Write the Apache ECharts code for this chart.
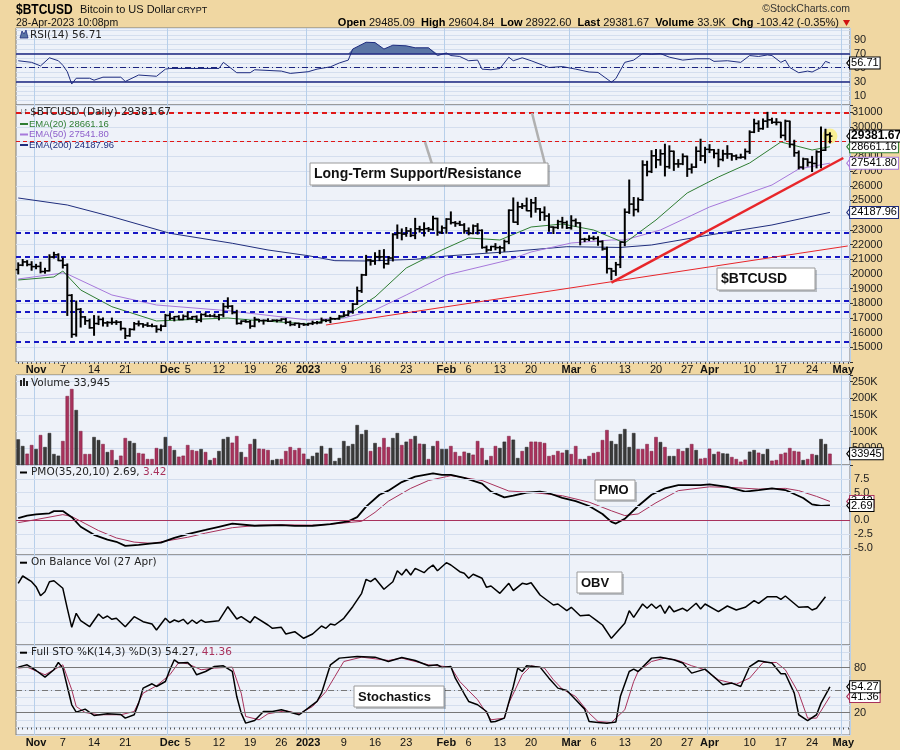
<!DOCTYPE html>
<html><head><meta charset="utf-8">
<script src="https://cdn.jsdelivr.net/npm/echarts@6/dist/echarts.min.js"></script>
<style>html,body{margin:0;padding:0;background:#F0D7A2}#c{width:900px;height:750px}</style>
</head><body><div id="c"></div>
<script>
// ---------------- DATA ----------------
const firstDay = '2022-10-28';
const dayCount = 187; // axis runs to 2023-05-02
const tickLabels = {'2022-11-01':'Nov','2022-11-07':'7','2022-11-14':'14','2022-11-21':'21','2022-12-01':'Dec','2022-12-05':'5','2022-12-12':'12','2022-12-19':'19','2022-12-26':'26','2023-01-01':'2023','2023-01-09':'9','2023-01-16':'16','2023-01-23':'23','2023-02-01':'Feb','2023-02-06':'6','2023-02-13':'13','2023-02-20':'20','2023-03-01':'Mar','2023-03-06':'6','2023-03-13':'13','2023-03-20':'20','2023-03-27':'27','2023-04-01':'Apr','2023-04-10':'10','2023-04-17':'17','2023-04-24':'24','2023-05-01':'May'};
const monthLabels = ['Nov','Dec','2023','Feb','Mar','Apr','May'];

const opens = [20290,20595,20818,20635,20495,20510,20160,20209,21148,21300,20905,20591,18541,15880,17586,17070,16812,16330,16619,16900,16663,16690,16700,16710,16285,15790,16220,16600,16600,16520,16460,16440,16220,16440,17170,16970,17090,16890,17110,16970,17090,16840,17230,17130,17130,17090,17210,17780,17800,17360,16630,16780,16740,16440,16900,16820,16830,16780,16840,16830,16920,16710,16550,16630,16600,16540,16620,16670,16670,16850,16830,16950,16940,17120,17190,17440,17940,18850,19930,20950,20870,21170,21160,20690,21080,22680,22780,22710,22920,22620,23070,23010,23080,23030,23770,22840,23130,23730,23490,23430,23330,22930,22760,23260,22960,21800,21630,21860,21790,21770,22200,24330,23520,24570,24630,24300,24840,24430,24190,23940,23190,23160,23560,23490,23140,23630,23470,22360,22350,22430,22410,22200,21700,20360,20190,20630,22160,24200,24750,24380,25050,27420,26970,28040,27770,28180,27300,28350,27490,27490,28000,27140,27270,28350,28030,28480,28450,28200,27790,28170,28170,28030,27920,27950,28330,29650,30240,29890,30400,30490,30320,30320,29430,30400,28820,28250,27270,27820,27590,27520,28310,28420,29485.09];
const highs = [20750,20980,20900,20830,20650,20790,20380,21300,21470,21370,21060,20680,18590,18150,17640,17090,16920,17160,17120,17000,16750,16990,16820,16760,16290,16270,16690,16790,16610,16670,16580,16470,16520,17240,17300,17100,17150,17200,17400,17100,17140,17280,17340,17220,17260,17240,17990,18370,17840,17520,16800,16860,16820,17040,16900,16860,16940,16870,16860,16940,16960,16780,16650,16640,16630,16630,16780,16760,16990,16880,17040,16960,17170,17390,17490,17990,19100,19970,21260,20990,21440,21600,21650,21180,22740,23330,23060,23160,23080,23780,23240,23480,23160,23920,23790,23260,23760,24220,23560,23580,23420,23130,23330,23420,23000,21900,21880,22060,21880,22300,24360,25170,24880,24790,25160,25070,25200,24450,24560,24090,23200,23650,23850,23590,23960,23740,23480,22420,22600,22560,22530,22250,21820,20370,20780,22190,24420,26390,25200,25170,27700,27670,28390,28470,28450,28830,28720,28360,27780,28170,28020,27480,28640,29170,28620,28800,28460,28480,28420,28730,28180,28100,28150,28500,29740,30530,30420,30550,31000,30600,30570,30320,30470,30400,29100,28370,27880,27830,28000,28380,30000,29850,29604.84];
const lows = [20000,20560,20550,20250,20350,20070,20050,20200,21080,20900,20400,17170,15680,15760,16380,16560,16300,15820,16550,16450,16430,16570,16560,16180,15600,15750,16180,16460,16370,16420,16400,16030,16130,16420,16890,16800,16880,16880,16900,16910,16700,16740,17100,17090,17070,16870,17080,17660,17280,16580,16590,16710,16300,16400,16730,16580,16760,16780,16730,16790,16610,16470,16500,16350,16490,16500,16550,16600,16660,16750,16680,16910,16910,17100,17150,17320,17920,18740,19900,20600,20650,20900,20400,20660,20880,22420,22320,22560,22540,22400,22850,22580,22890,22990,22630,22750,22770,23400,23240,23300,22770,22660,22730,22710,21750,21480,21600,21640,21380,21540,22060,23520,23360,24450,24300,23870,24200,23640,23650,22900,22750,23080,23120,23090,23050,23240,21980,22200,22270,22320,21950,21620,20060,19600,19900,20430,21920,24120,23950,24220,25000,26680,26900,27230,27400,26670,27190,27050,27260,27440,26640,26870,27250,27720,27560,28260,27900,27300,27700,27870,27740,27780,27880,27820,28200,29620,29700,29850,29980,30250,30150,29270,29120,28620,28010,27150,27130,27340,26970,27220,27230,28400,28922.60];
const closes = [20595,20818,20635,20495,20510,20160,20209,21148,21300,20905,20591,18541,15880,17586,17070,16812,16330,16619,16900,16663,16690,16700,16710,16285,15790,16220,16600,16600,16520,16460,16440,16220,16440,17170,16970,17090,16890,17110,16970,17090,16840,17230,17130,17130,17090,17210,17780,17800,17360,16630,16780,16740,16440,16900,16820,16830,16780,16840,16830,16920,16710,16550,16630,16600,16540,16620,16670,16670,16850,16830,16950,16940,17120,17190,17440,17940,18850,19930,20950,20870,21170,21160,20690,21080,22680,22780,22710,22920,22620,23070,23010,23080,23030,23770,22840,23130,23730,23490,23430,23330,22930,22760,23260,22960,21800,21630,21860,21790,21770,22200,24330,23520,24570,24630,24300,24840,24430,24190,23940,23190,23160,23560,23490,23140,23630,23470,22360,22350,22430,22410,22200,21700,20360,20190,20630,22160,24200,24750,24380,25050,27420,26970,28040,27770,28180,27300,28350,27490,27490,28000,27140,27270,28350,28030,28480,28450,28200,27790,28170,28170,28030,27920,27950,28330,29650,30240,29890,30400,30490,30320,30320,29430,30400,28820,28250,27270,27820,27590,27520,28310,28420,29470,29381.67];

// EMA readings [day index, value]
const ema20 = [[0,19584],[8,19788],[10,20197],[14,18904],[21,17766],[31,16793],[47,16997],[52,16861],[65,16589],[73,17065],[80,18427],[87,20401],[95,21627],[101,22444],[108,22308],[115,23193],[122,23397],[129,22989],[136,22104],[143,23670],[150,25508],[157,26598],[164,27551],[171,28981],[178,28436],[182,28661.16]];
const ema50 = [[0,19652],[10,20061],[11,19993],[21,18563],[31,17882],[47,17494],[65,16861],[73,16997],[80,17542],[87,18563],[96,19925],[110,20946],[115,21491],[124,22104],[133,22308],[136,22308],[144,22989],[155,24555],[169,26053],[175,27142],[182,27541.80]];
const ema200 = [[0,25168],[11,24691],[21,23895],[34,22764],[48,22083],[56,21627],[65,21240],[71,20900],[78,20878],[89,20992],[96,21218],[110,21511],[123,21852],[135,21800],[142,21967],[155,22648],[169,23329],[182,24187.96]];

const resistanceLevels = [31000, 29000];
const supportLevels = [22800, 21200, 18200, 17400, 15400];
const trendLines = [[69,16520,186,21900],[133,19400,185,27890]]; // thin, thick

// Volume (thousands) and up/down colour codes (k = up, r = down)
const volumeK = [77,57,34,60,48,90,54,96,33,28,72,207,228,165,102,33,33,84,75,63,39,45,15,28,81,72,66,36,34,18,18,51,48,84,57,45,25,28,60,45,42,48,39,15,21,42,78,84,67,87,39,24,63,78,49,48,45,15,18,18,42,54,45,51,34,18,27,37,57,34,51,12,21,72,57,63,120,93,105,42,66,54,81,54,81,96,60,70,78,87,64,63,18,57,72,48,48,
57,39,27,40,36,31,72,51,15,27,57,51,70,87,76,21,42,54,70,70,69,66,27,30,42,37,45,33,57,18,18,27,36,39,75,105,72,63,93,108,54,96,48,48,63,42,84,69,54,27,27,48,42,51,63,45,19,21,49,33,40,35,34,24,18,10,16,40,45,37,33,48,13,15,33,37,51,42,40,15,18,33,30,78,63,33.945];
const volumeDir = 'kkrrkrkkkkrrrkrrrkkrkrkrrkkrrrrrkkrkrrrrrkrkrkkkrrkrrkrrrkkrrrrrrkkkkrkkkkkkkkkrkrrrkkrkrkrkrkrkk' +
                  'rrrrkrrrkrrkkrkkrkrrrrrrrrkrrrkrrrrrkkkkkkrrrrrkrkkrrkrkrrrkrkkrrrrkkrkkrrrrrrrkrrkkkr';

const rsiPoints = [[0,59.9],[3,57.6],[5,52.5],[7,64.1],[9,59.9],[10,53.4],[11,44.2],[12,26.6],[13,34.9],[16,34.9],[17,32.1],[19,36.4],[23,36.4],[24,30.3],[27,39.5],[31,37.7],[33,47.9],[34,48.8],[45,48.8],[46,57.6],[49,42.8],[52,42.8],[53,47],[59,45.1],[61,41.8],[65,44.2],[67,47.9],[70,51.2],[72,56.7],[74,60.8],[75,76.6],[78,86.3],[80,85.8],[82,76.6],[84,82.1],[87,81.2],[89,78.4],[92,78.4],[94,67.3],[96,71],[97,67.3],[99,66],[101,59.9],[103,60.8],[104,47.9],[106,47],[108,48.8],[110,65],[111,59.9],[113,64.1],[115,59.9],[119,50.2],[122,51.6],[125,47.9],[128,43.8],[130,43.2],[133,29.3],[134,34.4],[136,57.6],[138,60.8],[140,70.1],[142,69.2],[144,70.1],[146,65],[149,60.8],[152,62.7],[155,62.7],[156,59],[159,59.9],[162,57.6],[164,67.3],[166,66],[168,68.2],[169,67.3],[171,57.6],[172,60.8],[173,50.2],[175,42.8],[177,45.1],[178,43.8],[180,50.2],[181,59],[182,56.71]];

const pmoLine = [[0,0.4],[2,0.87],[4,1.1],[7,1.28],[8,1.68],[10,1.68],[12,0.58],[14,-1.15],[17,-2.6],[20,-3.46],[22,-3.86],[24,-4.6],[27,-4.43],[30,-4.15],[32,-4.03],[35,-3.17],[38,-2.47],[42,-1.73],[45,-1.15],[48,-0.57],[53,-0.97],[59,-0.87],[62,-1.0],[66,-0.97],[70,-0.69],[74,-0.17],[76,0.58],[78,2.49],[81,4.62],[83,5.37],[86,6.92],[89,7.9],[93,8.48],[95,8.2],[97,8.2],[100,7.68],[104,6.64],[106,5.19],[109,4.15],[111,4.45],[114,5.02],[117,5.19],[119,4.9],[122,4.05],[125,3.46],[128,2.6],[131,1.16],[133,-0.28],[134,-0.57],[136,0.29],[139,2.6],[142,4.62],[145,5.78],[148,6.35],[153,6.35],[155,6.52],[159,6.06],[163,5.19],[166,5.48],[169,5.78],[172,5.48],[176,4.05],[178,2.89],[180,2.6],[182,2.69]];
const pmoSignal = [[0,-0.4],[3,0],[10,1.04],[12,0.7],[15,-0.57],[18,-1.84],[22,-3.17],[26,-3.92],[30,-4.15],[33,-3.74],[38,-3.05],[42,-2.3],[48,-1.32],[54,-0.87],[59,-0.8],[67,-0.87],[70,-0.7],[77,-0.17],[80,1.45],[83,3.46],[88,5.78],[92,7.2],[96,7.9],[97,8.08],[104,7.2],[110,5.3],[115,5.07],[122,4.45],[128,3.29],[133,1.73],[136,0.87],[139,1.16],[143,3.18],[148,5.37],[155,6.06],[160,5.94],[166,5.65],[172,5.78],[175,5.37],[179,4.33],[182,3.42]];

const obvPoints = [[0,61.7],[1,69],[3,63.3],[4,58.3],[5,49.3],[6,53.3],[7,63.3],[8,64.3],[10,56.7],[11,36.7],[12,17.7],[13,31.7],[14,24.3],[16,18.3],[18,31],[19,26.7],[20,29],[21,25.7],[22,26.7],[24,18.3],[26,28.3],[28,23.3],[30,21],[31,15],[33,26.7],[34,22.3],[35,25],[36,23.3],[37,25.7],[38,21],[39,25],[40,21.7],[41,25],[42,22.7],[45,24.3],[47,38.3],[49,26],[50,28.3],[52,22.3],[53,28.3],[56,20],[57,16.7],[59,17.7],[60,11],[62,13.3],[64,6.7],[66,11],[68,19],[69,16.7],[70,21],[71,20],[73,26.7],[75,38.3],[77,51.7],[78,65.7],[79,63.3],[80,66.7],[82,55.7],[84,63.3],[85,74.3],[86,70],[87,75.7],[88,70],[89,76.7],[91,72.3],[92,76.7],[93,80],[94,74.3],[96,82.3],[97,80],[99,73.3],[100,71.7],[101,66.7],[102,70.7],[104,66.7],[105,57.7],[106,59],[108,51.7],[110,61.7],[111,54.3],[113,61.7],[114,60.7],[115,62.3],[117,50],[120,40],[121,41],[123,34.3],[124,37.7],[126,29.3],[128,30],[130,23.3],[131,20],[133,6.7],[136,21.7],[137,34.3],[138,27.7],[140,41],[141,36.7],[142,41],[143,36.7],[144,40],[145,31.7],[146,39],[147,33.3],[149,36.7],[150,34],[152,41.7],[153,36],[154,41],[157,33.3],[159,39],[161,35],[163,37.7],[165,44.3],[166,41.7],[168,48.3],[170,48.3],[171,45.7],[172,49],[175,37.7],[177,38.3],[178,35],[179,36.7],[181,48.3]];

const stoK = [[0,80.5],[2,83.6],[4,76],[6,67.2],[8,77],[9,86.7],[10,79.2],[11,54.7],[12,30.3],[13,20.5],[15,24.5],[17,16],[20,18.3],[23,17.3],[24,12.5],[26,17],[27,32.5],[28,52.5],[30,58.3],[31,54.7],[33,61.3],[34,77],[35,90.3],[36,85.9],[38,86.7],[39,80.5],[40,70.3],[42,74.7],[44,81.3],[46,82.3],[48,74.7],[49,41.3],[50,19.2],[51,5.8],[53,9.3],[55,21.3],[57,21.3],[59,23.6],[63,17],[65,25.8],[67,34.7],[68,45.8],[70,83.6],[72,92.5],[76,94.7],[80,93.8],[83,88],[86,93.4],[89,89.4],[92,82.3],[94,83.6],[95,80],[97,81.3],[98,65.8],[100,45],[101,34.7],[103,30.3],[105,21.3],[106,7.2],[107,8],[109,12.5],[111,54.7],[112,79.2],[113,74.7],[114,82.3],[117,80.5],[119,65.8],[121,52.5],[123,49.3],[125,37],[127,24.5],[128,8],[130,6.7],[132,5.8],[134,7.2],[135,41.3],[137,74.7],[138,77.8],[139,74.7],[142,92.5],[144,93.8],[147,90.3],[149,85.9],[151,72.5],[154,77.8],[158,57],[160,59.2],[162,54.7],[164,81.3],[166,89],[169,85.9],[171,71.6],[172,71.6],[174,45.8],[175,17],[177,9.3],[179,17],[180,32.5],[182,54.27]];
const stoD = [[0,79.2],[2,80.5],[6,70.3],[10,83.6],[12,50.3],[13,28],[15,20],[18,17],[23,17],[26,21.3],[28,45.8],[31,55.6],[34,70.3],[36,86.7],[38,85],[41,77],[44,79.2],[48,80.5],[50,45.8],[51,14.7],[54,10.3],[56,18.3],[60,22.3],[63,18.3],[66,28],[69,48],[71,68],[73,88],[77,93.8],[83,89.4],[86,92.5],[92,83.6],[97,80.5],[99,61.3],[103,37],[104,28],[106,10.3],[109,12.5],[110,32.5],[113,70.3],[115,82.3],[118,79.2],[120,63.6],[122,51.2],[125,41.3],[128,19.2],[130,8],[133,6.7],[136,23.6],[138,61.3],[139,74.7],[142,88],[145,92.5],[148,89.4],[151,82.3],[154,77],[157,63.6],[161,57.8],[164,65.8],[167,86.7],[170,86.7],[172,77],[175,45.8],[177,12.5],[179,12.5],[182,41.36]];

// ---------------- BUILD ----------------
const dates = [];
{ const t0 = Date.parse(firstDay + 'T00:00:00Z'); for (let k = 0; k < dayCount; k++) dates.push(new Date(t0 + k * 86400000).toISOString().slice(0, 10)); }
const lastAxisDay = dates[dayCount - 1];
const ohlc = closes.map((c, i) => [i, opens[i], highs[i], lows[i], c]);
const named = pts => pts.map(p => [dates[p[0]], p[1]]);

const PANEL_BG = '#EEF2F9', GRID_C = '#D4DEEE', MONTH_C = '#B7CFEA', BORDER_C = '#7d7d7d';
const FONT = "'Liberation Sans', Arial, sans-serif";
const TFONT = "'DejaVu Sans', Verdana, sans-serif";
const L = 16, R = 50;
const panels = [
  {top: 28, height: 77}, {top: 105, height: 257}, {top: 375, height: 90},
  {top: 465, height: 90}, {top: 555, height: 90}, {top: 645, height: 90}
];
const isMonthStart = (i, v) => v.slice(8) === '01';

const xAxes = panels.map((p, gi) => ({
  type: 'category', gridIndex: gi, data: dates, boundaryGap: true,
  axisLine: {show: false},
  axisTick: {show: gi === 1 || gi === 5, interval: 0, length: 2, alignWithLabel: true, lineStyle: {color: '#555'}},
  axisLabel: {show: gi === 1 || gi === 5, interval: (i, v) => tickLabels[v] !== undefined, margin: 2,
    formatter: v => { const t = tickLabels[v]; if (t === undefined) return ''; return monthLabels.includes(t) ? '{m|' + t + '}' : '{d|' + t + '}'; },
    rich: {m: {fontFamily: FONT, fontWeight: 'bold', fontSize: 11, color: '#111'}, d: {fontFamily: FONT, fontSize: 11, color: '#111'}}},
  splitLine: {show: true, interval: isMonthStart, lineStyle: {color: MONTH_C, width: 1}}
}));

const near = (v, t) => Math.abs(v - t) < 1e-6;
const baseY = {type: 'value', position: 'right', scale: false, axisLine: {show: false}, axisTick: {show: false},
  axisLabel: {color: '#222', fontFamily: FONT, fontSize: 11, margin: 4}, splitLine: {show: true, lineStyle: {color: GRID_C, width: 1}}};
const yAxes = [
  Object.assign({}, baseY, {gridIndex: 0, min: -10/3, max: 320/3, interval: 20/3,
    axisLabel: Object.assign({}, baseY.axisLabel, {formatter: v => { const r = Math.round(v); return (near(v, r) && [10,30,50,70,90].includes(r)) ? String(r) : ''; }})}),
  Object.assign({}, baseY, {gridIndex: 1, min: 14000, max: 31500, interval: 1000,
    axisTick: {show: true, length: 3, lineStyle: {color: '#333'}},
    axisLabel: Object.assign({}, baseY.axisLabel, {margin: 2, formatter: v => (v >= 15000 && v <= 31000) ? String(v) : ''})}),
  Object.assign({}, baseY, {gridIndex: 2, min: 0, max: 270000, interval: 50000,
    axisTick: {show: true, length: 3, lineStyle: {color: '#333'}},
    axisLabel: Object.assign({}, baseY.axisLabel, {margin: 2, formatter: v => v === 0 || v > 250000 ? '' : (v >= 100000 ? (v / 1000) + 'K' : String(v))})}),
  Object.assign({}, baseY, {gridIndex: 3, min: -6.25, max: 10, interval: 1.25, splitLine: {show: false},
    axisLabel: Object.assign({}, baseY.axisLabel, {formatter: v => { const k = v / 2.5; return (near(k, Math.round(k)) && v >= -5 && v <= 7.5) ? v.toFixed(1) : ''; }})}),
  Object.assign({}, baseY, {gridIndex: 4, min: 0, max: 90, interval: 22.5, axisLabel: {show: false}}),
  Object.assign({}, baseY, {gridIndex: 5, min: -10, max: 110, interval: 10,
    axisLabel: Object.assign({}, baseY.axisLabel, {formatter: v => (near(v, 80) || near(v, 20)) ? String(Math.round(v)) : ''})})
];

function valueBox(val, text, color, bold) {
  return {coord: [lastAxisDay, val], value: val, symbol: 'triangle', symbolRotate: 90, symbolSize: [10, 4], symbolOffset: [1, 0],
    itemStyle: {color: '#fff', borderColor: color, borderWidth: 1},
    label: {show: true, position: 'right', distance: -1, formatter: text, color: '#000', fontFamily: FONT, fontSize: bold ? 12 : 11,
      fontWeight: bold ? 'bold' : 'normal', backgroundColor: '#fff', borderColor: color, borderWidth: 1, padding: [1, 1, 0, 1], lineHeight: 10}};
}
const hLine = (v, color, width, type) => ({yAxis: v, lineStyle: {color, width, type}});

const series = [];
// RSI
series.push({type: 'line', xAxisIndex: 0, yAxisIndex: 0, data: named(rsiPoints.map(p => [p[0], Math.max(p[1], 70)])),
  symbol: 'none', lineStyle: {width: 0}, areaStyle: {origin: 70, color: '#5B75A5', opacity: 1}, silent: true, z: 2});
series.push({type: 'line', xAxisIndex: 0, yAxisIndex: 0, data: named(rsiPoints), symbol: 'none', lineStyle: {color: '#1F2D80', width: 1}, z: 3,
  markLine: {silent: true, symbol: 'none', label: {show: false}, data: [hLine(70, '#1A237E', 1.5, 'solid'), hLine(30, '#1A237E', 1.5, 'solid'), hLine(50, '#1A237E', 1, [6, 3, 1, 3])]},
  markPoint: {silent: true, data: [valueBox(56.71, '56.71', '#000', false)]}});
// Price
series.push({type: 'scatter', xAxisIndex: 1, yAxisIndex: 1, data: [[dates[182], closes[182]]], symbolSize: 15,
  itemStyle: {color: 'rgba(255,236,80,0.75)'}, silent: true, z: 1});
series.push({type: 'line', xAxisIndex: 1, yAxisIndex: 1, data: named(ema200), symbol: 'none', lineStyle: {color: '#1F2D7D', width: 1}, z: 2});
series.push({type: 'line', xAxisIndex: 1, yAxisIndex: 1, data: named(ema50), symbol: 'none', lineStyle: {color: '#A779DB', width: 1}, z: 2});
series.push({type: 'line', xAxisIndex: 1, yAxisIndex: 1, data: named(ema20), symbol: 'none', lineStyle: {color: '#2E7D32', width: 1}, z: 2});
series.push({type: 'custom', xAxisIndex: 1, yAxisIndex: 1, data: ohlc, encode: {x: 0, y: [1, 2, 3, 4]}, z: 4,
  renderItem: (params, api) => {
    const i = api.value(0);
    const o = api.coord([i, api.value(1)]), h = api.coord([i, api.value(2)]), l = api.coord([i, api.value(3)]), c = api.coord([i, api.value(4)]);
    const x = o[0];
    return {type: 'group', children: [
      {type: 'line', shape: {x1: x, y1: h[1] - 0.5, x2: x, y2: l[1] + 0.5}, style: {stroke: '#000', lineWidth: 2}},
      {type: 'line', shape: {x1: x - 2.5, y1: o[1], x2: x, y2: o[1]}, style: {stroke: '#000', lineWidth: 1.5}},
      {type: 'line', shape: {x1: x, y1: c[1], x2: x + 2.5, y2: c[1]}, style: {stroke: '#000', lineWidth: 1.5}}
    ]};
  },
  markLine: {silent: true, symbol: 'none', label: {show: false}, z: 3, data: [
    hLine(resistanceLevels[0], '#E01818', 2, [5, 4]), hLine(resistanceLevels[1], '#E01818', 1, [4, 3]),
    ...supportLevels.map(v => hLine(v, '#1616C4', 2, [5, 4])),
    [{coord: [dates[trendLines[0][0]], trendLines[0][1]], lineStyle: {color: '#E8262A', width: 1, type: 'solid'}}, {coord: [dates[trendLines[0][2]], trendLines[0][3]]}],
    [{coord: [dates[trendLines[1][0]], trendLines[1][1]], lineStyle: {color: '#E8262A', width: 2.5, type: 'solid'}}, {coord: [dates[trendLines[1][2]], trendLines[1][3]]}]
  ]},
  markPoint: {silent: true, data: [
    valueBox(24187.96, '24187.96', '#1F2D7D', false), valueBox(27541.80, '27541.80', '#A779DB', false),
    valueBox(28661.16, '28661.16', '#2E7D32', false), valueBox(29381.67, '29381.67', '#000', true)]}});
// Volume
series.push({type: 'bar', xAxisIndex: 2, yAxisIndex: 2, barWidth: '78%',
  data: volumeK.map((v, i) => ({value: v * 1000, itemStyle: {color: volumeDir[i] === 'k' ? '#3A3A3A' : '#A8325C', borderColor: volumeDir[i] === 'k' ? '#222' : '#7a1f3f', borderWidth: 0.5}})),
  markPoint: {silent: true, data: [valueBox(33945, '33945', '#000', false)]}});
// PMO
series.push({type: 'line', xAxisIndex: 3, yAxisIndex: 3, data: named(pmoSignal), symbol: 'none', lineStyle: {color: '#A8325C', width: 1}, z: 2,
  markLine: {silent: true, symbol: 'none', label: {show: false}, data: [
    hLine(-5, GRID_C, 1, 'solid'), hLine(-2.5, GRID_C, 1, 'solid'), hLine(2.5, GRID_C, 1, 'solid'), hLine(5, GRID_C, 1, 'solid'), hLine(7.5, GRID_C, 1, 'solid'),
    hLine(0, '#A8325C', 1, 'solid')]},
  markPoint: {silent: true, data: [valueBox(3.42, '3.42', '#A8325C', false)]}});
series.push({type: 'line', xAxisIndex: 3, yAxisIndex: 3, data: named(pmoLine), symbol: 'none', lineStyle: {color: '#000', width: 1.8}, z: 3,
  markPoint: {silent: true, data: [valueBox(2.69, '2.69', '#000', false)]}});
// OBV
series.push({type: 'line', xAxisIndex: 4, yAxisIndex: 4, data: named(obvPoints), symbol: 'none', lineStyle: {color: '#000', width: 1.5}});
// STO
series.push({type: 'line', xAxisIndex: 5, yAxisIndex: 5, data: named(stoD), symbol: 'none', lineStyle: {color: '#A8325C', width: 1}, z: 2,
  markLine: {silent: true, symbol: 'none', label: {show: false}, data: [hLine(80, '#777', 1, 'solid'), hLine(20, '#777', 1, 'solid'), hLine(50, '#777', 1, [6, 3, 1, 3])]},
  markPoint: {silent: true, data: [valueBox(41.36, '41.36', '#A8325C', false)]}});
series.push({type: 'line', xAxisIndex: 5, yAxisIndex: 5, data: named(stoK), symbol: 'none', lineStyle: {color: '#000', width: 1.5}, z: 3,
  markPoint: {silent: true, data: [valueBox(54.27, '54.27', '#000', false)]}});

// ---------------- TEXT / ANNOTATIONS ----------------
const ZT = 50;
const t = (x, y, text, o, extra) => Object.assign({type: 'text', x, y, z: ZT, style: Object.assign({text, fill: '#111', fontFamily: FONT, fontSize: 11, verticalAlign: 'middle'}, o || {})}, extra || {});
const titleStyle = {fontFamily: TFONT, fontSize: 10.5, fill: '#222'};
function noteBox(x, y, w, h, text, fs) {
  return [
    {type: 'rect', z: 60, shape: {x: x + 2, y: y + 2, width: w, height: h}, style: {fill: 'rgba(0,0,0,0.22)'}},
    {type: 'rect', z: 61, shape: {x, y, width: w, height: h}, style: {fill: '#fff', stroke: '#9a9a9a', lineWidth: 1}},
    {type: 'text', z: 62, x: x + 4, y: y + h / 2 + 0.5, style: {text, fontFamily: FONT, fontWeight: 'bold', fontSize: fs, fill: '#111', verticalAlign: 'middle'}}
  ];
}
const graphics = [
  t(16, 10, '$BTCUSD', {fontSize: 15, fontWeight: 'bold', fill: '#000'}, {scaleX: 0.8}),
  t(80, 10, 'Bitcoin to US Dollar', {fontSize: 11}),
  t(177, 11, 'CRYPT', {fontSize: 9}),
  t(16, 23, '28-Apr-2023 10:08pm', {fontSize: 10.5}),
  t(850, 9, '\u00A9StockCharts.com', {fontSize: 10.5, align: 'right', fill: '#333'}),
  {type: 'text', x: 839, y: 23, z: ZT, style: {align: 'right', verticalAlign: 'middle', fontFamily: FONT, fontSize: 11, fill: '#111',
    text: '{b|Open} 29485.09  {b|High} 29604.84  {b|Low} 28922.60  {b|Last} 29381.67  {b|Volume} 33.9K  {b|Chg} -103.42 (-0.35%)',
    rich: {b: {fontWeight: 'bold', fontSize: 11, fontFamily: FONT, fill: '#000'}}}},
  {type: 'polygon', z: ZT, shape: {points: [[843, 20], [850, 20], [846.5, 26]]}, style: {fill: '#D01010'}},
  // panel titles
  {type: 'polygon', z: ZT, shape: {points: [[20, 38], [22, 31], [24, 34], [26, 30], [28, 38]]}, style: {fill: '#5B75A5', stroke: '#1F2D80', lineWidth: 0.8}},
  t(30, 35, 'RSI(14) 56.71', Object.assign({}, titleStyle, {letterSpacing: 0.5})),
  t(19, 112, '\u2193\u2191', {fontSize: 9, fill: '#333'}),
  t(30, 112, '$BTCUSD (Daily) 29381.67', Object.assign({}, titleStyle, {letterSpacing: 0.4})),
  {type: 'line', z: ZT, shape: {x1: 20, y1: 124, x2: 28, y2: 124}, style: {stroke: '#2E7D32', lineWidth: 2}},
  t(29, 124, 'EMA(20) 28661.16', {fontSize: 9.5, fill: '#2E7D32'}),
  {type: 'line', z: ZT, shape: {x1: 20, y1: 134.5, x2: 28, y2: 134.5}, style: {stroke: '#A779DB', lineWidth: 2}},
  t(29, 134.5, 'EMA(50) 27541.80', {fontSize: 9.5, fill: '#8E5FCB'}),
  {type: 'line', z: ZT, shape: {x1: 20, y1: 145, x2: 28, y2: 145}, style: {stroke: '#1F2D7D', lineWidth: 2}},
  t(29, 145, 'EMA(200) 24187.96', {fontSize: 9.5, fill: '#1F2D7D'}),
  {type: 'rect', z: ZT, shape: {x: 20, y: 380, width: 2, height: 6}, style: {fill: '#222'}},
  {type: 'rect', z: ZT, shape: {x: 23, y: 378, width: 2, height: 8}, style: {fill: '#222'}},
  {type: 'rect', z: ZT, shape: {x: 26, y: 381, width: 2, height: 5}, style: {fill: '#222'}},
  t(31, 383, 'Volume 33,945', Object.assign({}, titleStyle, {letterSpacing: 0.4})),
  {type: 'line', z: ZT, shape: {x1: 20, y1: 472.5, x2: 27, y2: 472.5}, style: {stroke: '#000', lineWidth: 2}},
  t(31, 472.5, '{a|PMO(35,20,10) 2.69, }{r|3.42}', Object.assign({}, titleStyle, {rich: {a: {fontFamily: TFONT, fontSize: 10.5, fill: '#222'}, r: {fontFamily: TFONT, fontSize: 10.5, fill: '#A8325C'}}})),
  {type: 'line', z: ZT, shape: {x1: 20, y1: 562.7, x2: 27, y2: 562.7}, style: {stroke: '#000', lineWidth: 2}},
  t(31, 562.7, 'On Balance Vol (27 Apr)', Object.assign({}, titleStyle, {letterSpacing: 0.4})),
  {type: 'line', z: ZT, shape: {x1: 20, y1: 652.7, x2: 27, y2: 652.7}, style: {stroke: '#000', lineWidth: 2}},
  t(31, 652.7, '{a|Full STO %K(14,3) %D(3) 54.27, }{r|41.36}', Object.assign({}, titleStyle, {rich: {a: {fontFamily: TFONT, fontSize: 10.5, fill: '#222'}, r: {fontFamily: TFONT, fontSize: 10.5, fill: '#A8325C'}}})),
  // callouts
  {type: 'line', z: 55, shape: {x1: 432, y1: 164, x2: 425, y2: 142}, style: {stroke: '#b0b0b0', lineWidth: 2.5}},
  {type: 'line', z: 55, shape: {x1: 545, y1: 164, x2: 532, y2: 113}, style: {stroke: '#b0b0b0', lineWidth: 2.5}},
  ...noteBox(310, 163, 238, 22, 'Long-Term Support/Resistance', 14),
  ...noteBox(717, 268, 98, 22, '$BTCUSD', 14),
  ...noteBox(595, 480, 40, 20, 'PMO', 13),
  ...noteBox(577, 572, 45, 21, 'OBV', 13),
  ...noteBox(354, 686, 90, 21, 'Stochastics', 13)
];

const chart = echarts.init(document.getElementById('c'), null, {renderer: 'canvas'});
chart.setOption({
  animation: false,
  backgroundColor: '#F0D7A2',
  grid: panels.map(p => ({left: L, right: R, top: p.top, height: p.height, show: true, backgroundColor: PANEL_BG, borderColor: BORDER_C, borderWidth: 1})),
  xAxis: xAxes, yAxis: yAxes, series, graphic: graphics
});
</script></body></html>
